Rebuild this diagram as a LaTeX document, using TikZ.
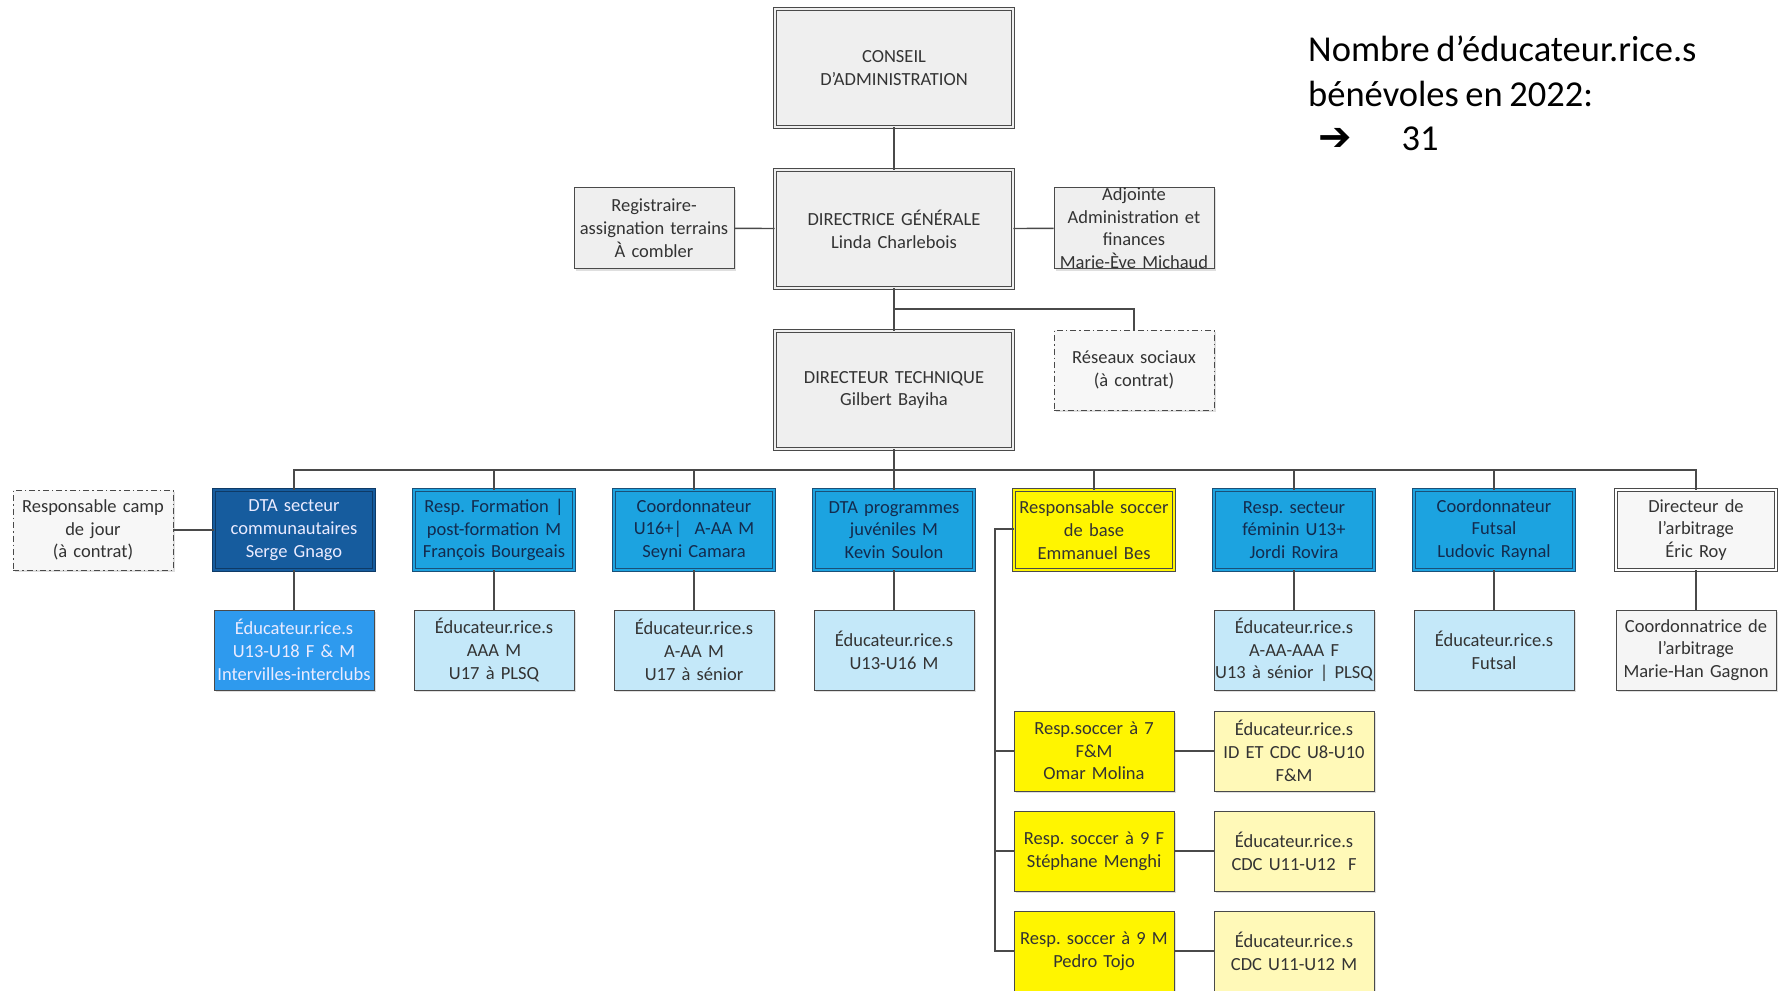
\documentclass[tikz,border=0pt]{standalone}
\usepackage{fontspec}
\setmainfont{Carlito}[WordSpace=0.8]
\newfontfamily\djv{DejaVu Sans}
\usetikzlibrary{shadows}
\definecolor{dkblue}{HTML}{165C9E}
\definecolor{dkborder}{HTML}{0E3A66}
\definecolor{brblue}{HTML}{1CA3E0}
\definecolor{brborder}{HTML}{1A5078}
\definecolor{edblue}{HTML}{2E9AEE}
\definecolor{ltblue}{HTML}{C4E8F9}
\definecolor{yel}{HTML}{FFF500}
\definecolor{ltyel}{HTML}{FFF9B8}
\definecolor{navytxt}{HTML}{132B4E}
\definecolor{grayfill}{HTML}{EFEFEF}
\definecolor{linec}{HTML}{4A4A4A}
\frenchspacing
\tikzset{
  box/.style={draw=linec, line width=0.9pt, align=center, inner sep=0pt,
    minimum width=160pt, minimum height=80pt, text width=160pt,
    font=\fontsize{18.5}{22.7}\selectfont, text=black!80, fill=grayfill,
    drop shadow={shadow xshift=2pt,shadow yshift=-2pt,opacity=0.25}},
  big/.style={box, minimum width=238pt, minimum height=118pt, text width=230pt},
  dbl/.style={double=#1, double distance=2.6pt},
  dashbox/.style={box, dash pattern=on 6pt off 3pt on 1.5pt off 3pt, fill=black!3},
  conn/.style={draw=linec, line width=1.4pt},
}
\begin{document}
\begin{tikzpicture}[x=1pt,y=-1pt]
\useasboundingbox[fill=white] (0,0) rectangle (1779,990);

% top
\node[big, dbl=grayfill] (cons) at (894,68) {CONSEIL\\D'ADMINISTRATION};
\node[big, dbl=grayfill] (dg) at (894,229) {DIRECTRICE GÉNÉRALE\\Linda Charlebois};
\node[box, minimum width=158pt, minimum height=81pt] (reg) at (654,228) {Registraire-\\assignation terrains\\À combler};
\node[box, minimum width=158pt, minimum height=81pt] (adj) at (1134,228) {Adjointe\\Administration et\\finances\\Marie-Ève Michaud};
\node[big, dbl=grayfill] (dt) at (894,390) {DIRECTEUR TECHNIQUE\\Gilbert Bayiha};
\node[dashbox, minimum width=158pt] (res) at (1134,370) {Réseaux sociaux\\(à contrat)};

% row 2
\node[dashbox] (camp) at (93,530) {Responsable camp\\de jour\\(à contrat)};
\node[box, fill=dkblue, draw=dkborder, dbl=dkblue, text=white!92!blue] (dta) at (294,530) {DTA secteur\\communautaires\\Serge Gnago};
\node[box, fill=brblue, draw=brborder, dbl=brblue, text=navytxt] (form) at (494,530) {Resp. Formation |\\post-formation M\\François Bourgeais};
\node[box, fill=brblue, draw=brborder, dbl=brblue, text=navytxt] (coord) at (694,530) {Coordonnateur\\U16+|\ \ A-AA M\\Seyni Camara};
\node[box, fill=brblue, draw=brborder, dbl=brblue, text=navytxt] (juv) at (894,530) {DTA programmes\\juvéniles M\\Kevin Soulon};
\node[box, fill=yel, draw=linec, dbl=yel] (base) at (1094,530) {Responsable soccer\\de base\\Emmanuel Bes};
\node[box, fill=brblue, draw=brborder, dbl=brblue, text=navytxt] (fem) at (1294,530) {Resp. secteur\\féminin U13+\\Jordi Rovira};
\node[box, fill=brblue, draw=brborder, dbl=brblue, text=navytxt] (fut) at (1494,530) {Coordonnateur\\Futsal\\Ludovic Raynal};
\node[box, fill=white!97!black, draw=linec, double=white, double distance=2pt, line width=0.7pt] (arb) at (1696,530) {Directeur de\\l’arbitrage\\Éric Roy};

% row 3
\node[box, fill=edblue, draw=linec, text=white!92!blue] (e1) at (294,650) {Éducateur.rice.s\\U13-U18 F \& M\\Intervilles-interclubs};
\node[box, fill=ltblue] (e2) at (494,650) {Éducateur.rice.s\\AAA M\\U17 à PLSQ};
\node[box, fill=ltblue] (e3) at (694,650) {Éducateur.rice.s\\A-AA M\\U17 à sénior};
\node[box, fill=ltblue] (e4) at (894,650) {Éducateur.rice.s\\U13-U16 M};
\node[box, fill=ltblue] (e6) at (1294,650) {Éducateur.rice.s\\A-AA-AAA F\\U13 à sénior | PLSQ};
\node[box, fill=ltblue] (e7) at (1494,650) {Éducateur.rice.s\\Futsal};
\node[box, fill=white!96!black] (e8) at (1696,650) {Coordonnatrice de\\l’arbitrage\\Marie-Han Gagnon};

% soccer de base
\node[box, fill=yel] (s7) at (1094,751) {Resp.soccer à 7\\F\&M\\Omar Molina};
\node[box, fill=ltyel] (s7e) at (1294,751) {Éducateur.rice.s\\ID ET CDC U8-U10\\F\&M};
\node[box, fill=yel] (s9f) at (1094,851) {Resp. soccer à 9 F\\Stéphane Menghi};
\node[box, fill=ltyel] (s9fe) at (1294,851) {Éducateur.rice.s\\CDC U11-U12\ \ F};
\node[box, fill=yel] (s9m) at (1094,951) {Resp. soccer à 9 M\\Pedro Tojo};
\node[box, fill=ltyel] (s9me) at (1294,951) {Éducateur.rice.s\\CDC U11-U12 M};

% connectors
\coordinate (b1) at (894,309);
\coordinate (bus) at (894,470);
\coordinate (sv) at (995,529);
\path[conn] (cons) -- (dg);
\path[conn] (reg) -- (dg);
\path[conn] (dg) -- (adj);
\path[conn] (dg) -- (dt);
\path[conn] (b1) -| (res);
\path[conn] (dt) -- (bus);
\path[conn] (dta.north) |- (bus) -| (arb.north);
\foreach \n in {form,coord,juv,base,fem,fut}{\path[conn] (\n.north) -- (\n.north |- bus);}
\path[conn] (camp) -- (dta);
\foreach \a/\b in {dta/e1,form/e2,coord/e3,juv/e4,fem/e6,fut/e7,arb/e8}{\path[conn] (\a) -- (\b);}
\path[conn] (base.west |- sv) -- (sv) |- (s9m.west);
\path[conn] (sv |- s7.west) -- (s7.west);
\path[conn] (sv |- s9f.west) -- (s9f.west);
\path[conn] (s7) -- (s7e);
\path[conn] (s9f) -- (s9fe);
\path[conn] (s9m) -- (s9me);

% note
\node[anchor=north west, align=left, inner sep=0pt, font=\fontsize{36.5}{44.5}\selectfont] (note) at (1308,36)
  {Nombre d’éducateur.rice.s\\bénévoles en 2022:\\\hspace*{10pt}{\djv\bfseries\fontsize{40}{44.5}\selectfont ➔}\hspace{50pt}31};
\end{tikzpicture}
\end{document}
